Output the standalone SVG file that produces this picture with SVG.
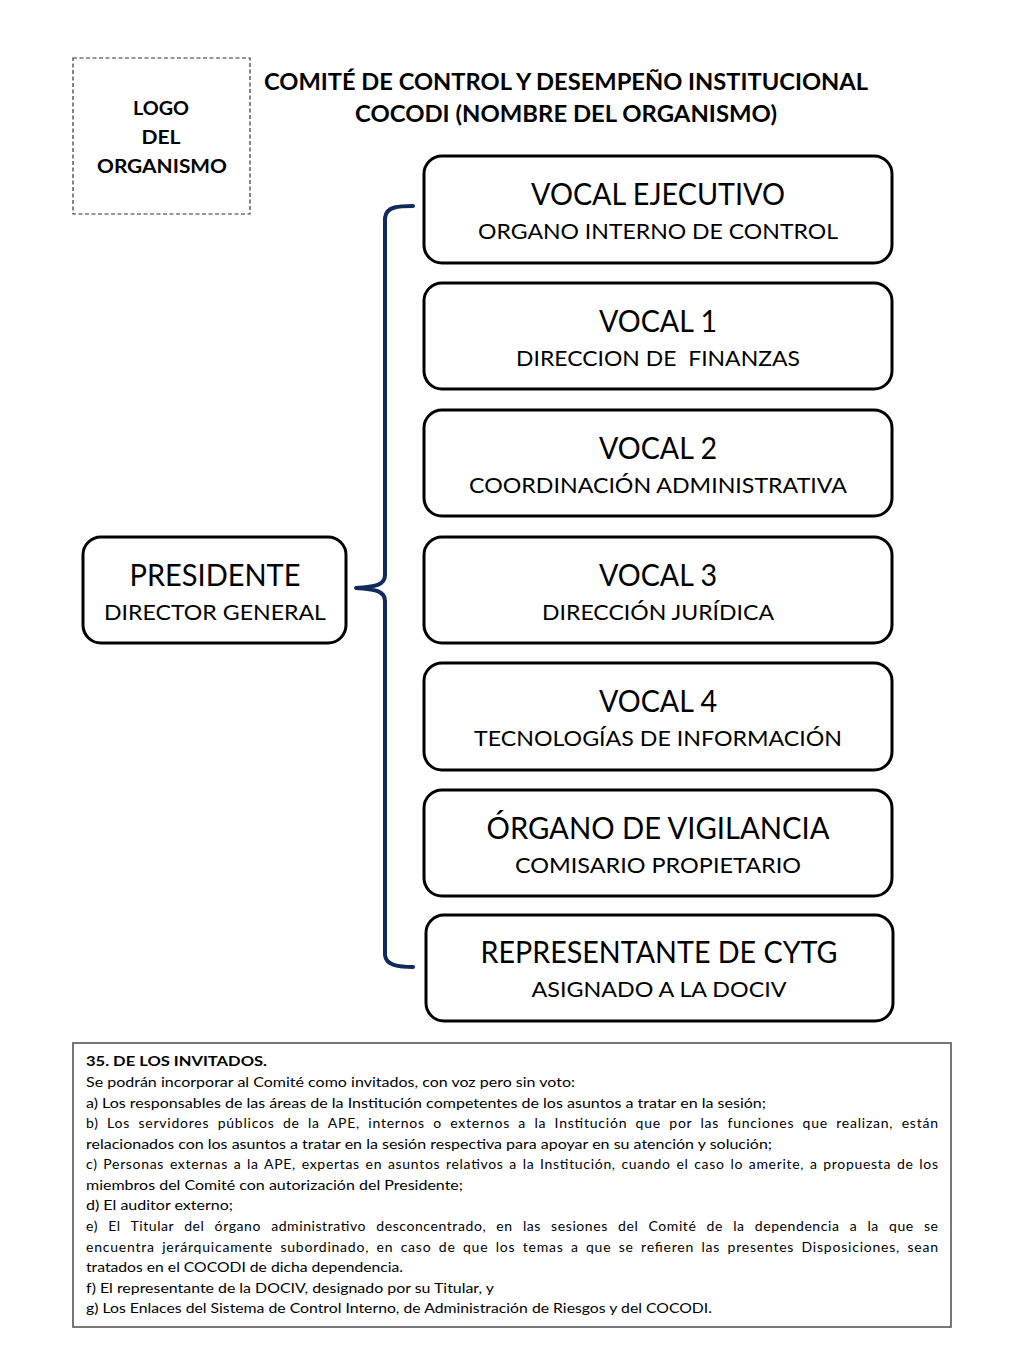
<svg xmlns="http://www.w3.org/2000/svg" width="1024" height="1365" viewBox="0 0 1024 1365">
<style>
.box{fill:#fff;stroke:#000;stroke-width:3}
.t{font-family:Lato,"Liberation Sans",sans-serif;fill:#000;text-anchor:middle}
.h{font-size:30px}
.s{font-size:22px}
.b{font-weight:bold}
.p{font-family:Lato,"Liberation Sans",sans-serif;font-size:14px;fill:#000}
.brace{fill:none;stroke:#12295c;stroke-width:4;stroke-linecap:round;stroke-linejoin:round}
</style>
<rect width="1024" height="1365" fill="#fff"/>
<g id="logo">
<rect x="73" y="58" width="177" height="156" fill="#fff" stroke="#333" stroke-width="1.2" stroke-dasharray="4,2.5"/>
<text class="t b" font-size="19" x="161" y="115" textLength="56" lengthAdjust="spacingAndGlyphs">LOGO</text>
<text class="t b" font-size="19" x="161" y="144" textLength="39" lengthAdjust="spacingAndGlyphs">DEL</text>
<text class="t b" font-size="19" x="162" y="173" textLength="130" lengthAdjust="spacingAndGlyphs">ORGANISMO</text>
</g>
<g id="title">
<text class="t b" font-size="22" x="566" y="90" textLength="604" lengthAdjust="spacingAndGlyphs">COMITÉ DE CONTROL Y DESEMPEÑO INSTITUCIONAL</text>
<text class="t b" font-size="22" x="566" y="122" textLength="422" lengthAdjust="spacingAndGlyphs">COCODI (NOMBRE DEL ORGANISMO)</text>
</g>
<g id="connectors">
<path class="brace" d="M413,206 C400,206 386,206 385,218 L385,575 C385,585 375,587 356,588 C375,589 385,591 385,601 L385,955 C386,966 400,967 413,967"/>
</g>
<g id="presidente">
<rect class="box" x="83" y="537" width="263" height="106" rx="18"/>
<text class="t h" x="215" y="586" textLength="171" lengthAdjust="spacingAndGlyphs">PRESIDENTE</text>
<text class="t s" x="215" y="620" textLength="222" lengthAdjust="spacingAndGlyphs">DIRECTOR GENERAL</text>
</g>
<g id="vocal-ejecutivo">
<rect class="box" x="424" y="156" width="468" height="107" rx="18"/>
<text class="t h" x="658" y="205" textLength="254" lengthAdjust="spacingAndGlyphs">VOCAL EJECUTIVO</text>
<text class="t s" x="658" y="239" textLength="360" lengthAdjust="spacingAndGlyphs">ORGANO INTERNO DE CONTROL</text>
</g>
<g id="vocal-1">
<rect class="box" x="424" y="283" width="468" height="106" rx="18"/>
<text class="t h" x="658" y="332" textLength="118" lengthAdjust="spacingAndGlyphs">VOCAL 1</text>
<text class="t s" x="658" y="366" textLength="284" lengthAdjust="spacingAndGlyphs" xml:space="preserve">DIRECCION DE  FINANZAS</text>
</g>
<g id="vocal-2">
<rect class="box" x="424" y="410" width="468" height="106" rx="18"/>
<text class="t h" x="658" y="459" textLength="118" lengthAdjust="spacingAndGlyphs">VOCAL 2</text>
<text class="t s" x="658" y="493" textLength="378" lengthAdjust="spacingAndGlyphs">COORDINACIÓN ADMINISTRATIVA</text>
</g>
<g id="vocal-3">
<rect class="box" x="424" y="537" width="468" height="106" rx="18"/>
<text class="t h" x="658" y="586" textLength="118" lengthAdjust="spacingAndGlyphs">VOCAL 3</text>
<text class="t s" x="658" y="620" textLength="232" lengthAdjust="spacingAndGlyphs">DIRECCIÓN JURÍDICA</text>
</g>
<g id="vocal-4">
<rect class="box" x="424" y="663" width="468" height="107" rx="18"/>
<text class="t h" x="658" y="712" textLength="118" lengthAdjust="spacingAndGlyphs">VOCAL 4</text>
<text class="t s" x="658" y="746" textLength="368" lengthAdjust="spacingAndGlyphs">TECNOLOGÍAS DE INFORMACIÓN</text>
</g>
<g id="organo-vigilancia">
<rect class="box" x="424" y="790" width="468" height="106" rx="18"/>
<text class="t h" x="658" y="839" textLength="343" lengthAdjust="spacingAndGlyphs">ÓRGANO DE VIGILANCIA</text>
<text class="t s" x="658" y="873" textLength="286" lengthAdjust="spacingAndGlyphs">COMISARIO PROPIETARIO</text>
</g>
<g id="representante-cytg">
<rect class="box" x="426" y="915" width="467" height="106" rx="18"/>
<text class="t h" x="659" y="963" textLength="357" lengthAdjust="spacingAndGlyphs">REPRESENTANTE DE CYTG</text>
<text class="t s" x="659" y="997" textLength="255" lengthAdjust="spacingAndGlyphs">ASIGNADO A LA DOCIV</text>
</g>
<g id="invitados">
<rect x="73" y="1043" width="878" height="284" fill="#fff" stroke="#555" stroke-width="1.6"/>
<text class="p b" x="86" y="1066" textLength="181" lengthAdjust="spacingAndGlyphs">35. DE LOS INVITADOS.</text>
<text class="p" x="86" y="1087" textLength="489" lengthAdjust="spacingAndGlyphs">Se podrán incorporar al Comité como invitados, con voz pero sin voto:</text>
<text class="p" x="86" y="1108" textLength="680" lengthAdjust="spacingAndGlyphs">a) Los responsables de las áreas de la Institución competentes de los asuntos a tratar en la sesión;</text>
<text class="p" x="86" y="1128" word-spacing="4" textLength="852" lengthAdjust="spacing">b) Los servidores públicos de la APE, internos o externos a la Institución que por las funciones que realizan, están</text>
<text class="p" x="86" y="1149" textLength="686" lengthAdjust="spacingAndGlyphs">relacionados con los asuntos a tratar en la sesión respectiva para apoyar en su atención y solución;</text>
<text class="p" x="86" y="1169" word-spacing="1.5" textLength="852" lengthAdjust="spacing">c) Personas externas a la APE, expertas en asuntos relativos a la Institución, cuando el caso lo amerite, a propuesta de los</text>
<text class="p" x="86" y="1190" textLength="377" lengthAdjust="spacingAndGlyphs">miembros del Comité con autorización del Presidente;</text>
<text class="p" x="86" y="1210" textLength="147" lengthAdjust="spacingAndGlyphs">d) El auditor externo;</text>
<text class="p" x="86" y="1231" word-spacing="6" textLength="852" lengthAdjust="spacing">e) El Titular del órgano administrativo desconcentrado, en las sesiones del Comité de la dependencia a la que se</text>
<text class="p" x="86" y="1252" word-spacing="3" textLength="852" lengthAdjust="spacing">encuentra jerárquicamente subordinado, en caso de que los temas a que se refieren las presentes Disposiciones, sean</text>
<text class="p" x="86" y="1272" textLength="317" lengthAdjust="spacingAndGlyphs">tratados en el COCODI de dicha dependencia.</text>
<text class="p" x="86" y="1293" textLength="408" lengthAdjust="spacingAndGlyphs">f) El representante de la DOCIV, designado por su Titular, y</text>
<text class="p" x="86" y="1313" textLength="626" lengthAdjust="spacingAndGlyphs">g) Los Enlaces del Sistema de Control Interno, de Administración de Riesgos y del COCODI.</text>
</g>
</svg>
